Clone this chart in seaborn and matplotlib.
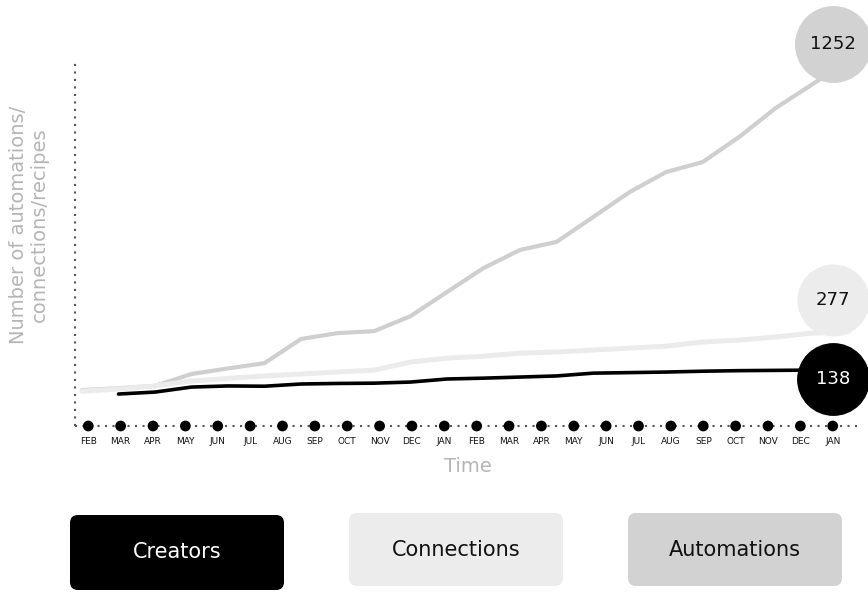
import matplotlib
matplotlib.use("Agg")
import matplotlib.pyplot as plt
import numpy as np
import pandas as pd
import seaborn as sns
from matplotlib import transforms
from matplotlib.patches import FancyBboxPatch

# ---------------- data ----------------
months = ["FEB", "MAR", "APR", "MAY", "JUN", "JUL", "AUG", "SEP", "OCT", "NOV", "DEC", "JAN",
          "FEB", "MAR", "APR", "MAY", "JUN", "JUL", "AUG", "SEP", "OCT", "NOV", "DEC", "JAN"]
automations = [66, 73, 81, 124, 144, 163, 250, 271, 278, 332, 419, 505,
               570, 599, 688, 778, 850, 886, 976, 1080, 1165, 1252]
connections = [62, 70, 81, 99, 108, 117, 124, 131, 138, 167, 181, 188,
               199, 203, 210, 217, 224, 239, 246, 257, 271, 277]
creators = [np.nan, 52, 59, 77, 81, 80, 88, 90, 91, 95, 106, 109,
            113, 117, 127, 129, 131, 134, 136, 137, 138, 138]
series_names = ["Automations", "Connections", "Creators"]
legend_order = ["Creators", "Connections", "Automations"]

# ---------------- style ----------------
sns.set_theme(style="white")
plt.rcParams["font.family"] = ["DejaVu Sans"]

line_colors = {"Automations": "#cfcfcf", "Connections": "#ebebeb", "Creators": "#000000"}
circle_colors = {"Automations": "#d2d2d2", "Connections": "#ececec", "Creators": "#000000"}
text_colors = {"Automations": "#111111", "Connections": "#111111", "Creators": "#ffffff"}
line_widths = {"Automations": 3.0, "Connections": 3.6, "Creators": 2.6}
label_dy = {"Automations": 16.5, "Connections": 31, "Creators": -8.5}   # pixel offsets of end badges
circle_size = {"Automations": 3070, "Connections": 2700, "Creators": 2750}

values = {"Automations": automations, "Connections": connections, "Creators": creators}
frames = []
for name in series_names:
    frames.append(pd.DataFrame({"idx": np.arange(len(values[name])),
                                "value": values[name], "series": name}))
df = pd.concat(frames, ignore_index=True)

W, H = 868, 592
fig = plt.figure(figsize=(W / 100, H / 100), dpi=100)

# background axes in pixel units for legend boxes
ax_bg = fig.add_axes([0, 0, 1, 1], zorder=0)
ax_bg.set_xlim(0, W)
ax_bg.set_ylim(H, 0)
ax_bg.axis("off")

left_px, right_px, top_px, bottom_px = 75, 857, 60, 426
pos = [left_px / W, 1 - bottom_px / H, (right_px - left_px) / W, (bottom_px - top_px) / H]

dot_style = (0, (1, 2.6))

# month axis
ax_t = fig.add_axes(pos, zorder=1)
ax_t.set_facecolor("none")
ax_t.set_xlim(-0.41, 23.75)
ax_t.set_ylim(0, 1)
ax_t.axhline(0, color="#555555", lw=1.5, linestyle=dot_style, zorder=2, clip_on=False)
ax_t.axvline(ax_t.get_xlim()[0], ymin=0, ymax=1, color="#555555", lw=1.5,
             linestyle=dot_style, zorder=2, clip_on=False)
sns.scatterplot(x=np.arange(len(months)), y=np.zeros(len(months)), ax=ax_t,
                color="black", s=60, edgecolor="none", clip_on=False, zorder=5)
ax_t.set_xticks(np.arange(len(months)))
ax_t.set_xticklabels(months, fontsize=6.5, color="#111111")
ax_t.tick_params(axis="x", length=0, pad=8)
ax_t.set_yticks([])
for s in ax_t.spines.values():
    s.set_visible(False)
ax_t.set_xlabel("")
ax_t.set_ylabel("")

# line axis
ax = fig.add_axes(pos, zorder=2)
ax.set_facecolor("none")
for name in series_names:
    sub = df[df["series"] == name]
    sns.lineplot(data=sub, x="idx", y="value", ax=ax, color=line_colors[name],
                 linewidth=line_widths[name], zorder=3, legend=False)
ax.set_xlim(-0.192, 21.23)
ax.set_ylim(-63, 1253)
ax.set_xticks([])
ax.set_yticks([])
ax.set_xlabel("")
ax.set_ylabel("")
for s in ax.spines.values():
    s.set_visible(False)

# end-value badges
blend = transforms.blended_transform_factory(ax_t.transData, ax.transData)
for name in series_names:
    last = values[name][-1]
    off = transforms.offset_copy(blend, fig=fig, x=0, y=label_dy[name], units="dots")
    ax.scatter([len(months) - 1], [last], s=circle_size[name], color=circle_colors[name],
               transform=off, clip_on=False, zorder=6, linewidths=0)
    ax.text(len(months) - 1, last, f"{int(last)}", transform=off, ha="center", va="center",
            fontsize=13, color=text_colors[name], zorder=7, clip_on=False)

# axis titles
fig.text(468 / W, 1 - 466 / H, "Time", ha="center", va="center", fontsize=14, color="#b5b5b5")
fig.text(29 / W, 1 - 225 / H, "Number of automations/\nconnections/recipes", rotation=90,
         ha="center", va="center", multialignment="center", fontsize=14, color="#b5b5b5",
         linespacing=1.15)

# legend boxes
boxes = {"Creators": (70, 515, 214, 75), "Connections": (349, 513, 214, 73),
         "Automations": (628, 513, 214, 73)}
for name in legend_order:
    x0, y0, bw, bh = boxes[name]
    ax_bg.add_patch(FancyBboxPatch((x0, y0), bw, bh, boxstyle="round,pad=0,rounding_size=8",
                                   facecolor=circle_colors[name], edgecolor="none"))
    ax_bg.text(x0 + bw / 2, y0 + bh / 2, name, ha="center", va="center", fontsize=15,
               color=text_colors[name])

fig.savefig("out.png", dpi=100)
